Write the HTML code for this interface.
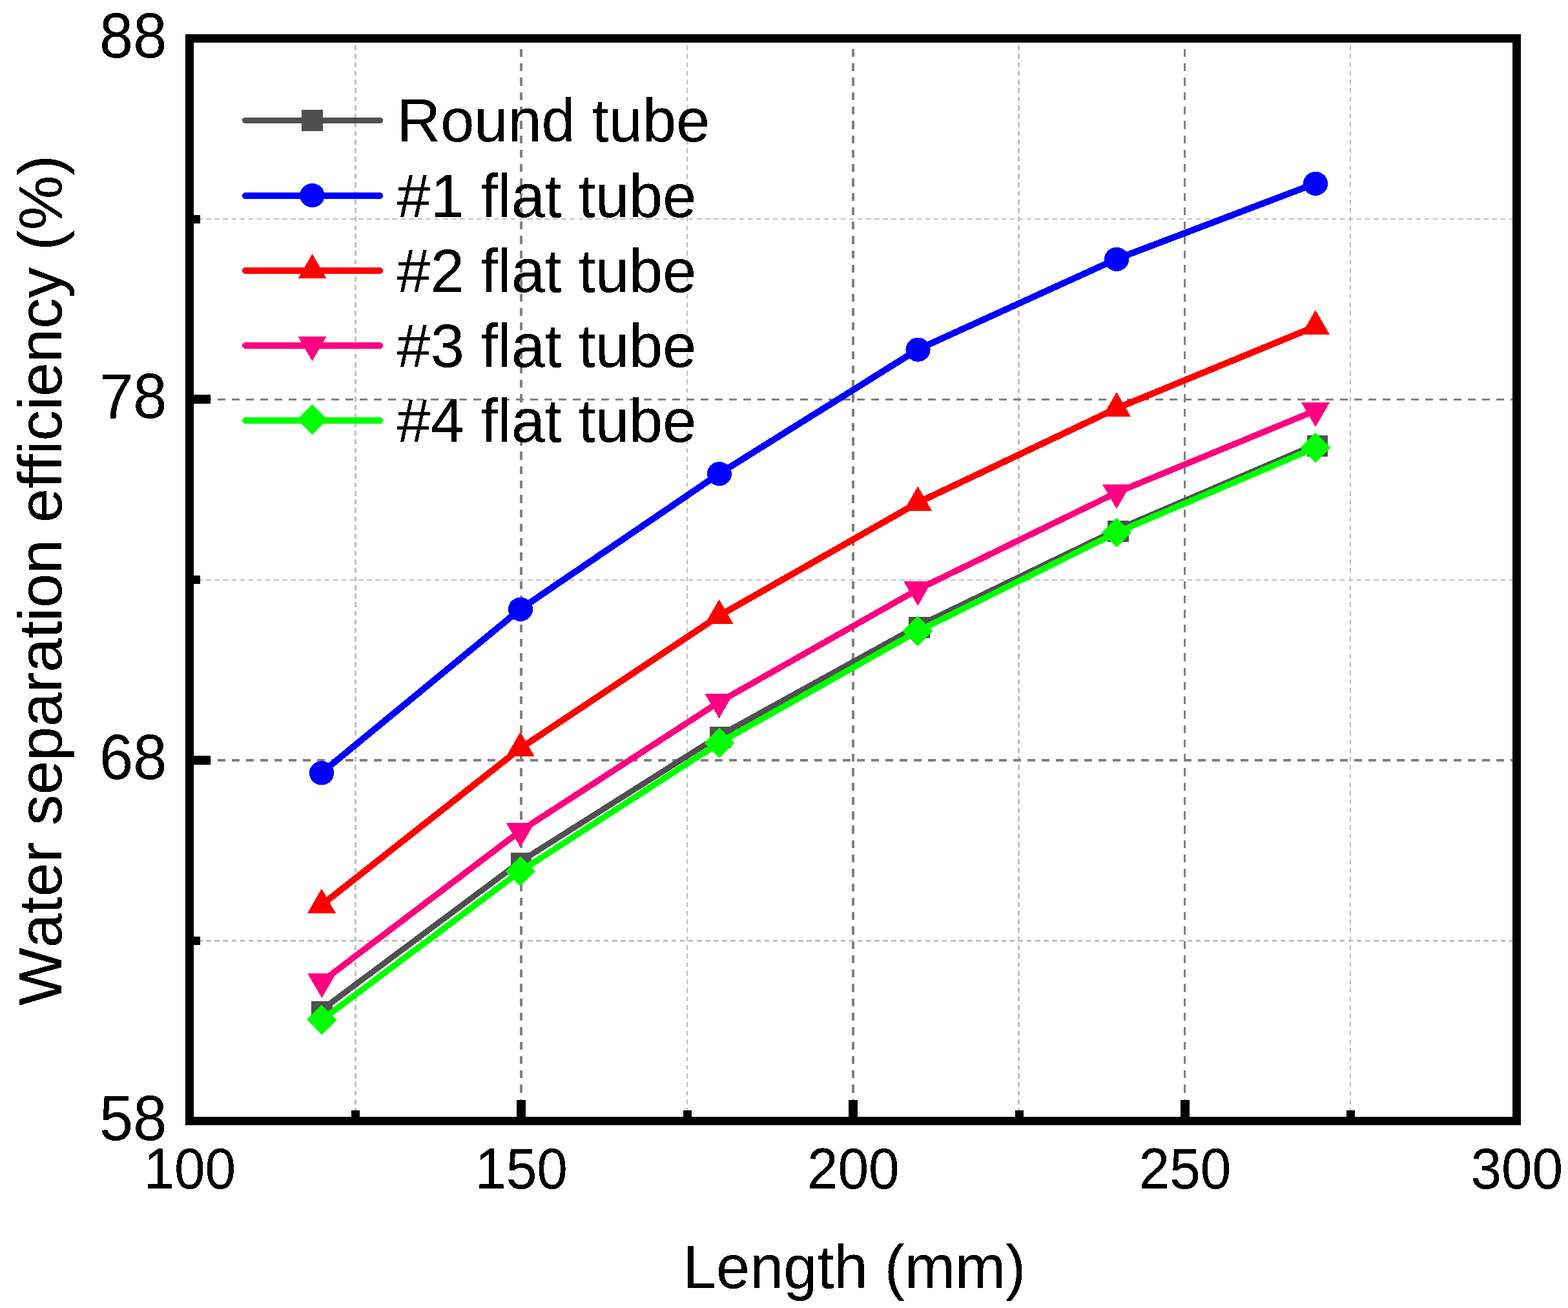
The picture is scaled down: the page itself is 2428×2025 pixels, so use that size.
<!DOCTYPE html>
<html lang="en"><head><meta charset="utf-8">
<title>Water separation efficiency vs. length</title>
<style>
html,body{margin:0;padding:0;background:#fff;}
body{width:2428px;height:2025px;overflow:hidden;}
svg{display:block;}
text{font-family:"Liberation Sans", sans-serif;fill:#000;font-kerning:none;font-variant-ligatures:none;font-feature-settings:"kern" 0,"liga" 0;}
</style></head><body>
<svg role="img" aria-label="Water separation efficiency versus length" width="2428" height="2025" viewBox="0 0 2428 2025">
<rect x="0" y="0" width="2428" height="2025" fill="#ffffff"/>
<defs><filter id="crisp" x="-5%" y="-20%" width="110%" height="140%" color-interpolation-filters="sRGB"><feComponentTransfer><feFuncA type="discrete" tableValues="0 0 1 1 1"/></feComponentTransfer></filter></defs>
<g id="grid" shape-rendering="crispEdges" fill="none">
<line x1="550.5" y1="1736.07" x2="550.5" y2="60" stroke="#c0c0c0" stroke-width="3" stroke-dasharray="7.7 5.567"/>
<line x1="807.0" y1="1736.2" x2="807.0" y2="60" stroke="#808080" stroke-width="4" stroke-dasharray="12.3 9.97"/>
<line x1="1064.0" y1="1736.07" x2="1064.0" y2="60" stroke="#c0c0c0" stroke-width="2" stroke-dasharray="7.7 5.567"/>
<line x1="1321.0" y1="1736.2" x2="1321.0" y2="60" stroke="#808080" stroke-width="4" stroke-dasharray="12.3 9.97"/>
<line x1="1577.5" y1="1736.07" x2="1577.5" y2="60" stroke="#c0c0c0" stroke-width="3" stroke-dasharray="7.7 5.567"/>
<line x1="1834.5" y1="1736.2" x2="1834.5" y2="60" stroke="#808080" stroke-width="3" stroke-dasharray="12.3 9.97"/>
<line x1="2091.0" y1="1736.07" x2="2091.0" y2="60" stroke="#c0c0c0" stroke-width="2" stroke-dasharray="7.7 5.567"/>
<line x1="293.0" y1="1456.5" x2="2348" y2="1456.5" stroke="#c0c0c0" stroke-width="3" stroke-dasharray="7.5 5.6"/>
<line x1="293.1" y1="1177.0" x2="2348" y2="1177.0" stroke="#808080" stroke-width="4" stroke-dasharray="12.3 9.7"/>
<line x1="293.0" y1="898.0" x2="2348" y2="898.0" stroke="#c0c0c0" stroke-width="2" stroke-dasharray="7.5 5.6"/>
<line x1="293.1" y1="618.5" x2="2348" y2="618.5" stroke="#808080" stroke-width="3" stroke-dasharray="12.3 9.7"/>
<line x1="293.0" y1="339.0" x2="2348" y2="339.0" stroke="#c0c0c0" stroke-width="2" stroke-dasharray="7.5 5.6"/>
</g>
<g id="data" shape-rendering="crispEdges">
<polyline points="498.5,1563.1 806.9,1333.1 1115.5,1138.0 1423.6,968.1 1731.6,819.1 2039.9,687.1" fill="none" stroke="#505050" stroke-width="9.0" stroke-linejoin="round" stroke-linecap="round"/>
<rect x="482.2" y="1550.2" width="32.6" height="32.6" fill="#505050"/>
<rect x="790.6" y="1320.2" width="32.6" height="32.6" fill="#505050"/>
<rect x="1099.2" y="1125.1" width="32.6" height="32.6" fill="#505050"/>
<rect x="1407.3" y="955.2" width="32.6" height="32.6" fill="#505050"/>
<rect x="1715.3" y="806.2" width="32.6" height="32.6" fill="#505050"/>
<rect x="2023.6" y="674.2" width="32.6" height="32.6" fill="#505050"/>
<polyline points="498.0,1196.4 806.0,942.9 1113.9,733.2 1421.5,540.9 1729.0,401.0 2037.0,284.0" fill="none" stroke="#0000ff" stroke-width="10.0" stroke-linejoin="round" stroke-linecap="round"/>
<ellipse cx="498.0" cy="1196.8" rx="19.1" ry="18.6" fill="#0000ff"/>
<ellipse cx="806.0" cy="943.3" rx="19.1" ry="18.6" fill="#0000ff"/>
<ellipse cx="1113.9" cy="733.6" rx="19.1" ry="18.6" fill="#0000ff"/>
<ellipse cx="1421.5" cy="541.3" rx="19.1" ry="18.6" fill="#0000ff"/>
<ellipse cx="1729.0" cy="401.4" rx="19.1" ry="18.6" fill="#0000ff"/>
<ellipse cx="2037.0" cy="284.4" rx="19.1" ry="18.6" fill="#0000ff"/>
<polyline points="498.0,1401.1 805.8,1158.4 1113.5,953.3 1421.2,778.2 1729.0,632.2 2037.0,505.3" fill="none" stroke="#ff0000" stroke-width="10.0" stroke-linejoin="round" stroke-linecap="round"/>
<polygon points="498.0,1375.7 520.0,1413.8 476.0,1413.8" fill="#ff0000"/>
<polygon points="805.8,1133.0 827.8,1171.1 783.8,1171.1" fill="#ff0000"/>
<polygon points="1113.5,927.9 1135.5,966.0 1091.5,966.0" fill="#ff0000"/>
<polygon points="1421.2,752.8 1443.2,790.9 1399.2,790.9" fill="#ff0000"/>
<polygon points="1729.0,606.8 1751.0,644.9 1707.0,644.9" fill="#ff0000"/>
<polygon points="2037.0,479.9 2059.0,518.0 2015.0,518.0" fill="#ff0000"/>
<polyline points="498.3,1519.8 805.8,1286.5 1113.5,1086.9 1421.2,912.6 1729.0,762.6 2037.0,635.7" fill="none" stroke="#ff0080" stroke-width="9.6" stroke-linejoin="round" stroke-linecap="round"/>
<polygon points="498.3,1545.2 520.3,1507.1 476.3,1507.1" fill="#ff0080"/>
<polygon points="805.8,1311.9 827.8,1273.8 783.8,1273.8" fill="#ff0080"/>
<polygon points="1113.5,1112.3 1135.5,1074.2 1091.5,1074.2" fill="#ff0080"/>
<polygon points="1421.2,938.0 1443.2,899.9 1399.2,899.9" fill="#ff0080"/>
<polygon points="1729.0,788.0 1751.0,749.9 1707.0,749.9" fill="#ff0080"/>
<polygon points="2037.0,661.1 2059.0,623.0 2015.0,623.0" fill="#ff0080"/>
<polyline points="498.3,1579.0 805.8,1348.7 1114.1,1149.9 1421.1,977.2 1729.0,824.5 2036.9,693.0" fill="none" stroke="#00ff00" stroke-width="9.6" stroke-linejoin="round" stroke-linecap="round"/>
<polygon points="498.3,1555.7 521.6,1579.0 498.3,1602.3 475.0,1579.0" fill="#00ff00"/>
<polygon points="805.8,1325.4 829.1,1348.7 805.8,1372.0 782.5,1348.7" fill="#00ff00"/>
<polygon points="1114.1,1126.6 1137.4,1149.9 1114.1,1173.2 1090.8,1149.9" fill="#00ff00"/>
<polygon points="1421.1,953.9 1444.4,977.2 1421.1,1000.5 1397.8,977.2" fill="#00ff00"/>
<polygon points="1729.0,801.2 1752.3,824.5 1729.0,847.8 1705.7,824.5" fill="#00ff00"/>
<polygon points="2036.9,669.7 2060.2,693.0 2036.9,716.3 2013.6,693.0" fill="#00ff00"/>
</g>
<g id="axes" shape-rendering="crispEdges" fill="#000">
<rect x="293.5" y="59.5" width="2055" height="1676" fill="none" stroke="#000" stroke-width="13"/>
<rect x="800" y="1703" width="14" height="27"/>
<rect x="1314" y="1703" width="14" height="27"/>
<rect x="1828" y="1703" width="14" height="27"/>
<rect x="544" y="1719" width="13" height="11"/>
<rect x="1058" y="1719" width="13" height="11"/>
<rect x="1572" y="1719" width="13" height="11"/>
<rect x="2085" y="1719" width="13" height="11"/>
<rect x="299" y="1170" width="27" height="14"/>
<rect x="299" y="611" width="27" height="14"/>
<rect x="299" y="1450" width="11" height="13"/>
<rect x="299" y="891" width="11" height="13"/>
<rect x="299" y="333" width="11" height="13"/>
</g>
<g id="ylabels" text-anchor="end" filter="url(#crisp)">
<text transform="translate(258.3 1764.5) scale(1 1.04)" font-size="93.75">58</text>
<text transform="translate(258.3 1205.8) scale(1 1.04)" font-size="93.75">68</text>
<text transform="translate(258.3 647.2) scale(1 1.04)" font-size="93.75">78</text>
<text transform="translate(258.3 88.5) scale(1 1.04)" font-size="93.75">88</text>
</g>
<g id="xlabels" text-anchor="middle" filter="url(#crisp)">
<text transform="translate(293.8 1840.0) scale(1 1.04)" font-size="85.6">100</text>
<text transform="translate(807.5 1840.0) scale(1 1.04)" font-size="85.6">150</text>
<text transform="translate(1321.3 1840.0) scale(1 1.04)" font-size="85.6">200</text>
<text transform="translate(1835.0 1840.0) scale(1 1.04)" font-size="85.6">250</text>
<text transform="translate(2348.8 1840.0) scale(1 1.04)" font-size="85.6">300</text>
</g>
<text id="xtitle" filter="url(#crisp)" x="1322.6" y="1994.1" text-anchor="middle" font-size="93.75">Length (mm)</text>
<text id="ytitle" filter="url(#crisp)" transform="translate(95.1 898.5) rotate(-90)" text-anchor="middle" font-size="94.75">Water separation efficiency (%)</text>
<g id="legend">
<g shape-rendering="crispEdges"><line x1="379.5" y1="186.5" x2="588.7" y2="186.5" stroke="#505050" stroke-width="9.0" stroke-linecap="round"/><rect x="467.2" y="170.2" width="32.6" height="32.6" fill="#505050"/></g>
<text filter="url(#crisp)" x="614.5" y="219.0" font-size="93.75">Round tube</text>
<g shape-rendering="crispEdges"><line x1="380.0" y1="303.1" x2="588.2" y2="303.1" stroke="#0000ff" stroke-width="10.0" stroke-linecap="round"/><ellipse cx="483.5" cy="302.5" rx="19.1" ry="18.6" fill="#0000ff"/></g>
<text filter="url(#crisp)" x="614.5" y="335.6" font-size="93.75">#1 flat tube</text>
<g shape-rendering="crispEdges"><line x1="380.0" y1="419.0" x2="588.2" y2="419.0" stroke="#ff0000" stroke-width="10.0" stroke-linecap="round"/><polygon points="483.5,392.9 505.5,431.0 461.5,431.0" fill="#ff0000"/></g>
<text filter="url(#crisp)" x="614.5" y="451.5" font-size="93.75">#2 flat tube</text>
<g shape-rendering="crispEdges"><line x1="379.8" y1="535.0" x2="588.4" y2="535.0" stroke="#ff0080" stroke-width="9.6" stroke-linecap="round"/><polygon points="483.5,559.1 505.5,521.0 461.5,521.0" fill="#ff0080"/></g>
<text filter="url(#crisp)" x="614.5" y="567.5" font-size="93.75">#3 flat tube</text>
<g shape-rendering="crispEdges"><line x1="379.8" y1="651.0" x2="588.4" y2="651.0" stroke="#00ff00" stroke-width="9.6" stroke-linecap="round"/><polygon points="483.5,626.2 506.8,649.5 483.5,672.8 460.2,649.5" fill="#00ff00"/></g>
<text filter="url(#crisp)" x="614.5" y="683.5" font-size="93.75">#4 flat tube</text>
</g>
</svg></body></html>
